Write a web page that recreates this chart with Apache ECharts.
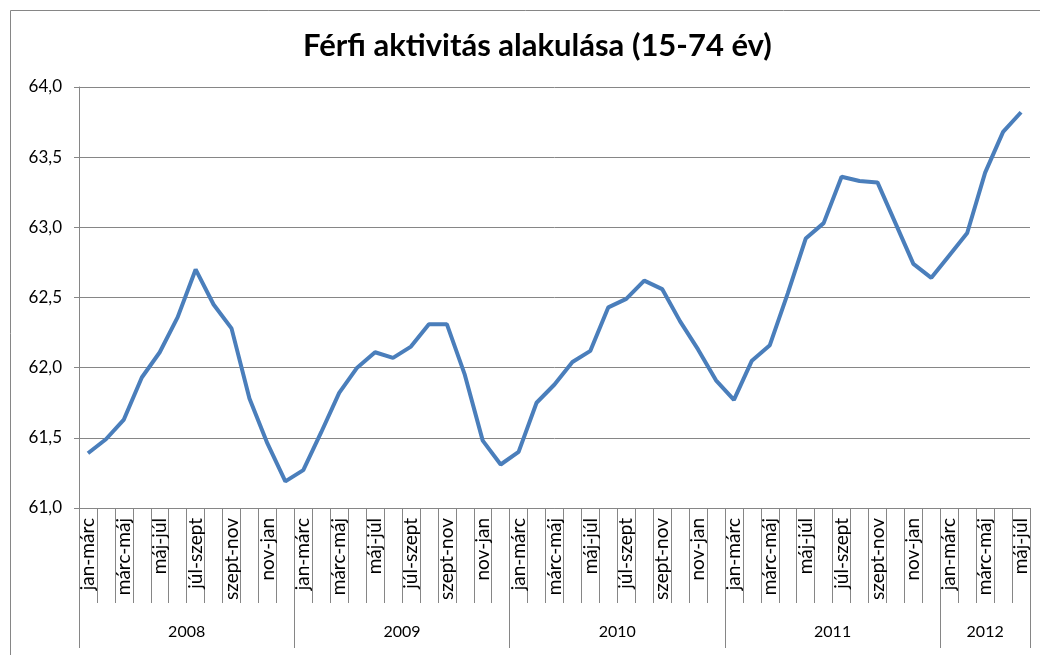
<!DOCTYPE html>
<html>
<head>
<meta charset="utf-8">
<script src="https://cdn.jsdelivr.net/npm/echarts@6/dist/echarts.min.js"></script>
<style>
  html, body { margin: 0; padding: 0; background: #fff; }
  #chart { width: 1040px; height: 655px; }
</style>
</head>
<body>
<div id="chart"></div>
<script>
// időszakok (gördülő 3 hónap) évenként
const periods = ['jan-márc', 'febr-ápr', 'márc-máj', 'ápr-jún', 'máj-júl', 'jún-aug',
  'júl-szept', 'aug-okt', 'szept-nov', 'okt-dec', 'nov-jan', 'dec-febr']
const years = ['2008', '2009', '2010', '2011', '2012']
const periodsPerYear = [12, 12, 12, 12, 5]

// férfi aktivitási arány, %
const values = [
  61.39, 61.49, 61.63, 61.93, 62.11, 62.36, 62.70, 62.45, 62.28, 61.78, 61.46, 61.19,
  61.27, 61.54, 61.82, 62.00, 62.11, 62.07, 62.15, 62.31, 62.31, 61.95, 61.48, 61.31,
  61.40, 61.75, 61.88, 62.04, 62.12, 62.43, 62.49, 62.62, 62.56, 62.33, 62.13, 61.91,
  61.77, 62.05, 62.16, 62.53, 62.92, 63.03, 63.36, 63.33, 63.32, 63.03, 62.74, 62.64,
  62.80, 62.96, 63.39, 63.68, 63.82
]

const categories = []
const yearBounds = [0]
const yearCenters = []
periodsPerYear.forEach((n, y) => {
  for (let i = 0; i < n; i++) categories.push(periods[i])
  const start = yearBounds[yearBounds.length - 1]
  yearCenters.push(start + n / 2)
  yearBounds.push(start + n)
})
const tickBounds = categories.map((c, i) => i).concat([categories.length])

const font = 'Lato, "Open Sans", sans-serif'
const gray = '#868686'

const option = {
  animation: false,
  title: {
    text: 'Férfi aktivitás alakulása (15-74 év)',
    left: 298,
    top: 25,
    textStyle: { fontFamily: font, fontSize: 31, fontWeight: 'bold', color: '#000' }
  },
  graphic: [{
    type: 'rect',
    shape: { x: 10.5, y: 10.5, width: 1100, height: 700 },
    style: { fill: 'none', stroke: gray, lineWidth: 1 },
    silent: true
  }],
  grid: { left: 79, right: 10, top: 87, bottom: 147 },
  xAxis: [
    {
      type: 'category',
      data: categories,
      boundaryGap: true,
      axisLine: { lineStyle: { color: gray } },
      axisTick: { show: false },
      axisLabel: {
        interval: 1,
        rotate: 90,
        margin: 10,
        fontFamily: font,
        fontSize: 19,
        color: '#000'
      }
    },
    {
      // osztásvonalak a kategóriák között
      type: 'value',
      min: 0,
      max: categories.length,
      position: 'bottom',
      axisLine: { show: false },
      splitLine: { show: false },
      axisTick: {
        show: true,
        length: 95,
        customValues: tickBounds,
        lineStyle: { color: gray }
      },
      axisLabel: { show: false }
    },
    {
      type: 'value',
      min: 0,
      max: categories.length,
      position: 'bottom',
      offset: 95,
      axisLine: { show: false },
      splitLine: { show: false },
      axisTick: {
        show: true,
        length: 45,
        customValues: yearBounds,
        lineStyle: { color: gray }
      },
      axisLabel: {
        customValues: yearCenters,
        margin: 21,
        fontFamily: font,
        fontSize: 16,
        color: '#000',
        formatter: v => years[yearCenters.indexOf(v)]
      }
    }
  ],
  yAxis: {
    type: 'value',
    min: 61,
    max: 64,
    interval: 0.5,
    axisLine: { show: true, lineStyle: { color: gray } },
    axisTick: { show: true, length: 5, lineStyle: { color: gray } },
    splitLine: { lineStyle: { color: gray, width: 1 } },
    axisLabel: {
      margin: 17,
      fontFamily: font,
      fontSize: 17,
      color: '#000',
      formatter: v => v.toFixed(1).replace('.', ',')
    }
  },
  series: [{
    type: 'line',
    xAxisIndex: 0,
    data: values,
    symbol: 'none',
    lineStyle: { color: '#4A7EBB', width: 4 }
  }]
}

const myChart = echarts.init(document.getElementById('chart'))
myChart.setOption(option)
</script>
</body>
</html>
